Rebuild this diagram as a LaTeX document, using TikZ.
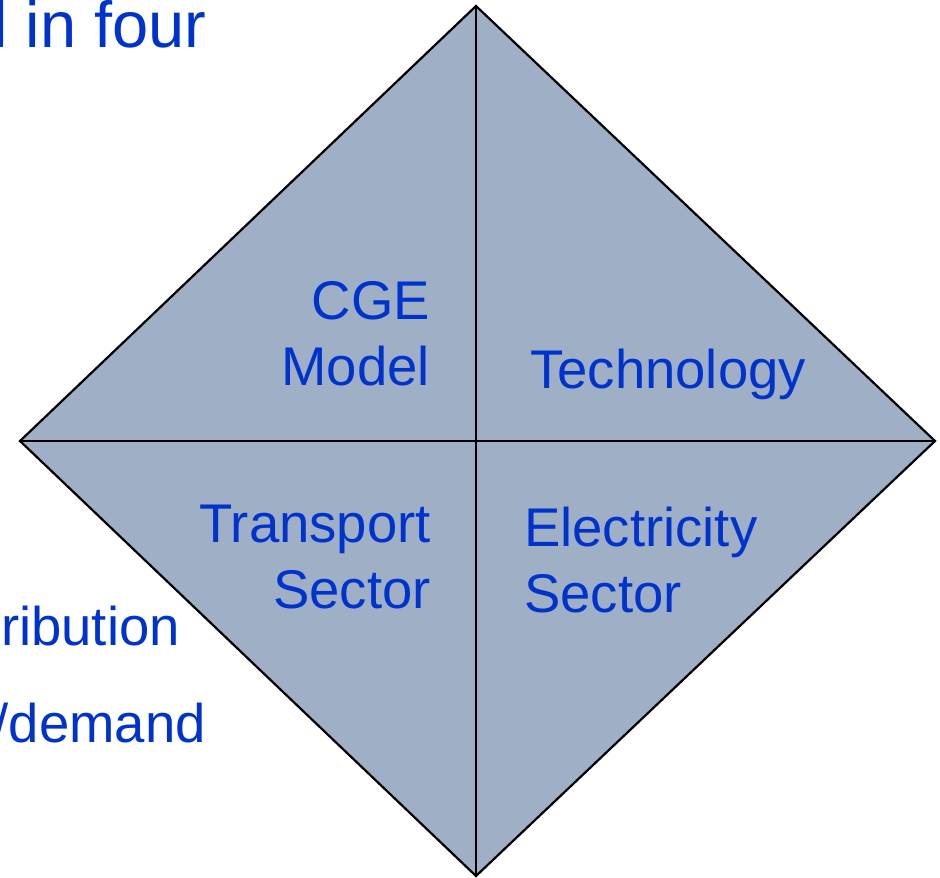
\documentclass[tikz,border=0pt]{standalone}
\usepackage{fontspec}
\setmainfont{Liberation Sans}
\definecolor{panel}{RGB}{159,176,198}
\definecolor{labelblue}{RGB}{0,51,204}
\begin{document}
\begin{tikzpicture}[x=1pt,y=-1pt,
  edge/.style={draw=black,line width=2.2pt,line join=miter},
  lbl/.style={text=labelblue,inner sep=0pt,font=\fontsize{54.5}{66}\selectfont},
  ttl/.style={text=labelblue,inner sep=0pt,font=\fontsize{65}{78}\selectfont}]
\useasboundingbox (0,0) rectangle (940,878);
\coordinate (T) at (476,6);
\coordinate (B) at (476,876);
\coordinate (L) at (20,441);
\coordinate (R) at (935,441);
\coordinate (C) at (476,441);
\fill[panel] (T) -- (R) -- (B) -- (L) -- cycle;
\draw[edge] (T) -- (R) -- (B) -- (L) -- cycle;
\draw[edge] (T) -- (B);
\draw[edge] (L) -- (R);
\node[lbl,anchor=base east,align=right] (cge) at (430,385) {CGE\\Model};
\node[lbl,anchor=base west] (tech) at (530,388) {Technology};
\node[lbl,anchor=base east,align=right] (trans) at (431,608) {Transport\\Sector};
\node[lbl,anchor=base west,align=left] (elec) at (524,612) {Electricity\\Sector};
\node[ttl,anchor=base west] (title) at (-7,47) {l in four};
\node[lbl,anchor=base east] (distr) at (180,645) {ribution};
\node[lbl,anchor=base east] (dem) at (206,742) {/demand};
\end{tikzpicture}
\end{document}
